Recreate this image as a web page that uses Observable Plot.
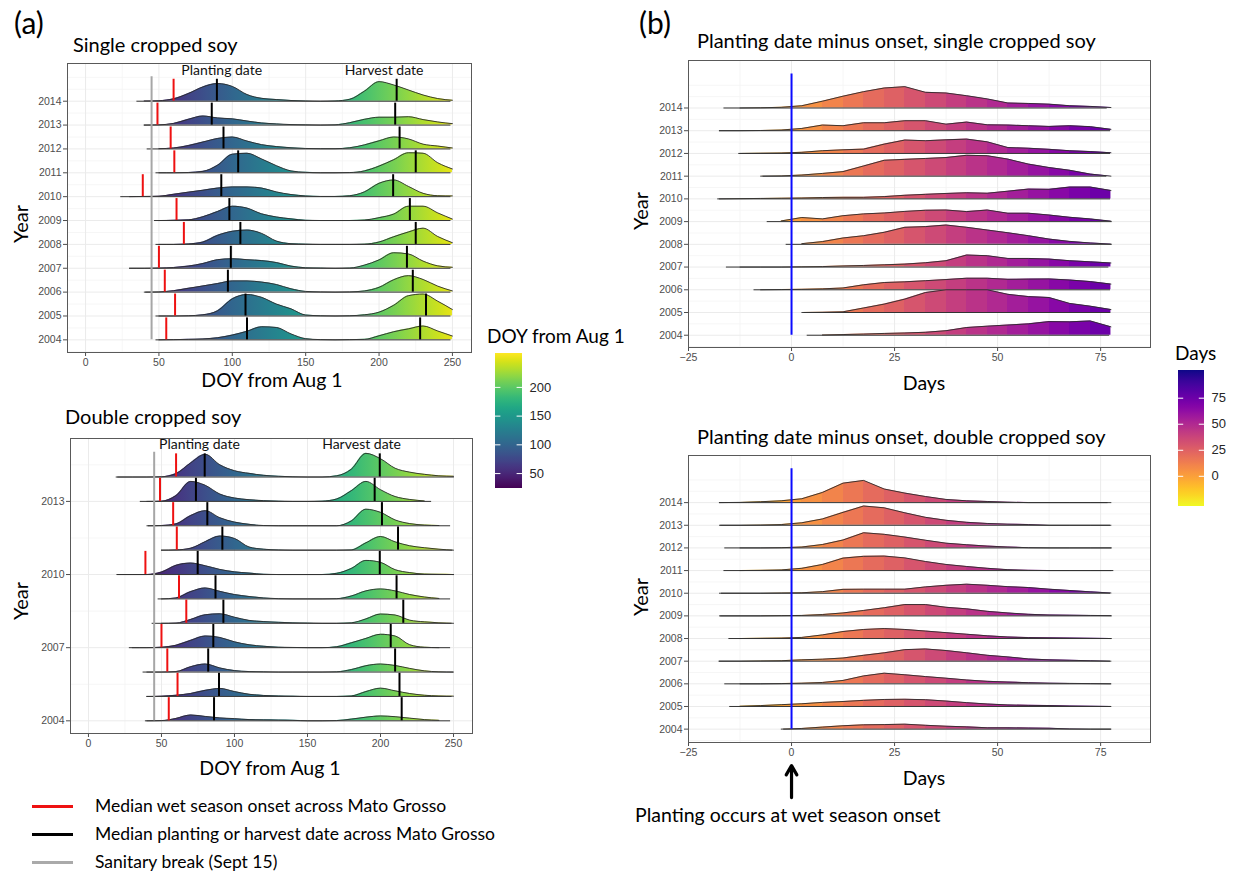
<!DOCTYPE html>
<html><head><meta charset="utf-8">
<script src="https://cdn.jsdelivr.net/npm/d3@7"></script>
<script src="https://cdn.jsdelivr.net/npm/@observablehq/plot@0.6"></script>
<style>
body{margin:0;background:#fff;}
#root{position:relative;width:1233px;height:873px;overflow:hidden;font-family:Lato,"Open Sans",sans-serif;color:#000;background:#fff;}
#root svg{position:absolute;overflow:visible;}
</style></head><body><div id="root"></div>
<script>
// ---------------- data ----------------
const years = [2004, 2005, 2006, 2007, 2008, 2009, 2010, 2011, 2012, 2013, 2014];

// Panel (a): DOY from Aug 1 grid and ridge heights (in row units), one row per year
const doyGrid = [20,30,40,50,60,70,80,90,100,110,120,130,140,150,160,170,180,190,200,210,220,230,240,250];
const singleDensity = [
  [0,0,0,0,0.01,0.02,0.04,0.09,0.2,0.36,0.55,0.52,0.25,0.05,0.01,0,0.01,0.02,0.17,0.34,0.46,0.58,0.37,0.16],
  [0,0,0,0,0,0.01,0.05,0.22,0.72,0.9,0.78,0.5,0.3,0.04,0.01,0,0.01,0.05,0.16,0.45,0.85,0.92,0.62,0.27],
  [0,0,0,0.01,0.06,0.16,0.26,0.36,0.47,0.47,0.42,0.32,0.14,0.03,0.01,0,0.01,0.05,0.2,0.52,0.69,0.53,0.25,0.05],
  [0,0,0,0.01,0.03,0.09,0.2,0.36,0.4,0.36,0.32,0.24,0.09,0.02,0.01,0,0.01,0.13,0.35,0.65,0.6,0.3,0.1,0.04],
  [0,0,0,0,0,0.02,0.1,0.38,0.55,0.6,0.46,0.14,0.03,0.01,0,0,0,0.01,0.1,0.32,0.52,0.68,0.33,0.07],
  [0,0,0,0,0.01,0.03,0.16,0.38,0.6,0.52,0.28,0.15,0.07,0.01,0,0,0,0.02,0.12,0.27,0.6,0.6,0.32,0.06],
  [0,0,0.01,0.02,0.1,0.19,0.27,0.36,0.41,0.41,0.36,0.2,0.09,0.03,0.01,0.01,0.04,0.2,0.56,0.7,0.43,0.14,0.04,0.03],
  [0,0,0,0,0,0.01,0.06,0.32,0.78,0.82,0.58,0.3,0.08,0.02,0,0,0.01,0.08,0.28,0.55,0.84,0.82,0.42,0.16],
  [0,0,0,0.01,0.04,0.14,0.29,0.44,0.5,0.33,0.18,0.1,0.05,0.02,0.01,0.01,0.05,0.17,0.34,0.5,0.42,0.2,0.12,0.04],
  [0,0,0,0.01,0.07,0.24,0.38,0.3,0.26,0.17,0.09,0.05,0.02,0.01,0,0.01,0.1,0.24,0.33,0.33,0.35,0.23,0.13,0.06],
  [0,0,0.01,0.02,0.1,0.32,0.6,0.74,0.62,0.28,0.12,0.07,0.03,0.01,0,0.01,0.08,0.42,0.82,0.68,0.47,0.26,0.11,0.04]
];
const singleMin = [48, 48, 41, 30, 48, 47, 24, 48, 42, 40, 35];
const singleMax = [249, 249, 249, 249, 249, 249, 249, 249, 249, 249, 249];
const singlePlantMedian = [110, 109, 97, 99, 105.5, 98, 92.5, 104, 94, 86, 89.5];
const singleHarvestMedian = [228, 232, 223, 219, 225, 221, 209.6, 225, 214, 211, 212];

const doubleDensity = [
  [0,0,0,0.01,0.1,0.24,0.18,0.12,0.09,0.05,0.04,0.03,0.02,0,0,0.01,0.07,0.15,0.2,0.17,0.11,0.05,0.02,0.01],
  [0,0,0,0.01,0.05,0.12,0.25,0.33,0.2,0.09,0.04,0.02,0.01,0,0,0,0.02,0.2,0.34,0.23,0.12,0.05,0.02,0.01],
  [0,0,0,0,0.02,0.22,0.33,0.17,0.06,0.02,0.01,0,0,0,0,0.01,0.1,0.26,0.33,0.27,0.15,0.05,0.01,0],
  [0,0,0,0.02,0.1,0.3,0.48,0.42,0.24,0.12,0.06,0.02,0.01,0,0,0.04,0.2,0.38,0.55,0.48,0.12,0.02,0,0],
  [0,0,0,0,0.01,0.16,0.35,0.39,0.25,0.12,0.07,0.04,0.02,0.01,0,0,0.02,0.18,0.38,0.34,0.13,0.06,0.02,0],
  [0,0,0,0,0.04,0.3,0.45,0.31,0.18,0.1,0.04,0.01,0,0,0,0.01,0.12,0.33,0.41,0.33,0.18,0.08,0.02,0],
  [0,0,0,0.1,0.38,0.47,0.36,0.21,0.11,0.06,0.01,0,0,0,0,0.05,0.25,0.58,0.5,0.2,0.08,0.02,0.01,0],
  [0,0,0,0,0.01,0.08,0.35,0.58,0.48,0.13,0.04,0.01,0,0,0,0,0.01,0.3,0.56,0.34,0.18,0.1,0.04,0],
  [0,0,0,0.01,0.08,0.42,0.62,0.33,0.15,0.06,0.01,0,0,0,0,0,0.2,0.68,0.55,0.24,0.09,0.03,0.01,0],
  [0,0,0,0.01,0.24,0.82,0.66,0.3,0.14,0.07,0.03,0.01,0,0,0.01,0.1,0.44,0.82,0.48,0.2,0.08,0.02,0,0],
  [0,0,0,0.01,0.14,0.58,0.93,0.5,0.26,0.15,0.07,0.03,0.01,0,0,0.05,0.32,0.97,0.75,0.36,0.2,0.11,0.05,0.03]
];
const doubleMin = [39, 40, 37.4, 28, 43.6, 47.7, 19.5, 50, 41, 35.5, 19];
const doubleMax = [248, 249, 250, 248, 249, 248, 250.6, 249.5, 248, 235, 250.6];
const doublePlantMedian = [86, 89.4, 82, 85.5, 92.4, 87, 74.8, 91.7, 81.4, 73.6, 79.6];
const doubleHarvestMedian = [214.5, 213, 210, 207, 215.6, 211, 199.5, 212, 201, 196, 199.5];

const onsetDoy = [55, 61, 54, 50, 67, 62, 39, 60.5, 58, 49, 60];
const sanitaryBreakDoy = 45;

// Panel (b): planting date minus onset (days)
const dayGrid = [-17.5,-12.5,-7.5,-2.5,2.5,7.5,12.5,17.5,22.5,27.5,32.5,37.5,42.5,47.5,52.5,57.5,62.5,67.5,72.5,77.5];
const singleDiffDensity = [
  [0,0,0,0,0,0.01,0.03,0.05,0.08,0.1,0.13,0.2,0.34,0.4,0.45,0.5,0.6,0.59,0.63,0.37],
  [0,0,0,0,0,0.01,0.03,0.2,0.37,0.59,0.88,1.0,1.0,1.0,0.8,0.7,0.66,0.4,0.28,0.13],
  [0,0,0,0.01,0.02,0.04,0.08,0.22,0.32,0.35,0.4,0.45,0.51,0.51,0.46,0.47,0.48,0.43,0.36,0.25],
  [0,0,0,0,0.01,0.02,0.05,0.07,0.1,0.13,0.19,0.28,0.53,0.5,0.38,0.38,0.35,0.28,0.23,0.18],
  [0,0,0,0,0.03,0.12,0.28,0.38,0.53,0.75,0.78,0.85,0.75,0.63,0.51,0.38,0.23,0.13,0.06,0.01],
  [0,0,0,0.03,0.18,0.12,0.26,0.34,0.38,0.45,0.5,0.51,0.44,0.51,0.37,0.37,0.29,0.19,0.12,0.02],
  [0,0.01,0.02,0.03,0.04,0.06,0.07,0.07,0.1,0.16,0.2,0.24,0.27,0.25,0.34,0.43,0.42,0.52,0.52,0.37],
  [0,0,0,0.01,0.05,0.12,0.2,0.45,0.7,0.74,0.78,0.82,0.92,0.9,0.75,0.53,0.38,0.26,0.09,0],
  [0,0,0.01,0.02,0.05,0.12,0.16,0.19,0.41,0.59,0.56,0.6,0.63,0.51,0.26,0.23,0.18,0.12,0.08,0.03],
  [0,0,0.01,0.03,0.1,0.25,0.22,0.35,0.35,0.44,0.44,0.29,0.38,0.26,0.25,0.22,0.19,0.22,0.18,0.06],
  [0,0,0.01,0.03,0.1,0.3,0.52,0.72,0.88,0.94,0.69,0.66,0.54,0.4,0.22,0.2,0.17,0.1,0.07,0.02]
];
const singleDiffMin = [3.8, 3, -9.1, -15.8, -1.3, -5.9, -17.9, -6.9, -12.8, -17.5, -16.4];
const singleDiffMax = [77.2, 77.5, 77.4, 77, 77.8, 77.8, 77.4, 76.5, 77.4, 77.4, 76.6];

const doubleDiffDensity = [
  [0,0,0,0,0.03,0.09,0.15,0.19,0.2,0.22,0.17,0.13,0.1,0.06,0.06,0.05,0.04,0.01,0,0],
  [0,0.01,0.04,0.08,0.12,0.18,0.22,0.27,0.31,0.32,0.3,0.24,0.17,0.11,0.07,0.05,0.04,0.02,0.01,0],
  [0,0,0,0.01,0.03,0.06,0.15,0.35,0.47,0.4,0.32,0.25,0.17,0.11,0.08,0.05,0.03,0.02,0.01,0],
  [0,0,0.01,0.02,0.06,0.09,0.14,0.26,0.37,0.51,0.54,0.47,0.37,0.26,0.19,0.1,0.06,0.04,0.02,0],
  [0,0,0.01,0.02,0.05,0.16,0.31,0.4,0.44,0.4,0.33,0.26,0.19,0.12,0.07,0.04,0.03,0.02,0.01,0],
  [0,0,0,0.01,0.02,0.06,0.13,0.24,0.36,0.5,0.5,0.38,0.31,0.2,0.13,0.07,0.04,0.03,0.02,0.01],
  [0,0,0,0.01,0.02,0.07,0.17,0.18,0.18,0.18,0.28,0.35,0.4,0.35,0.29,0.25,0.18,0.12,0.06,0.01],
  [0,0,0.01,0.03,0.1,0.27,0.55,0.63,0.64,0.56,0.4,0.27,0.18,0.1,0.04,0.01,0,0,0,0],
  [0,0,0,0.01,0.04,0.15,0.35,0.67,0.6,0.48,0.34,0.21,0.14,0.08,0.04,0.01,0,0,0,0],
  [0,0,0.01,0.03,0.11,0.28,0.57,0.85,0.77,0.55,0.35,0.22,0.13,0.08,0.05,0.03,0,0,0,0],
  [0,0.01,0.04,0.08,0.17,0.45,0.86,0.98,0.6,0.42,0.27,0.14,0.08,0.05,0.02,0,0,0,0,0]
];
const doubleDiffMin = [-1.9, -15, -16.2, -17.6, -15.2, -17.2, -17, -16.4, -16.2, -17.2, -17.5];
const doubleDiffMax = [77.6, 77.6, 77.6, 77.4, 77.8, 77.8, 77.4, 78.2, 77.8, 77.4, 76.8];
const onsetDay = 0;

// colour scales and ticks
const doyFillDomain = [24, 259];
const daysFillDomain = [-29, 101.6];
const doyTicks = [0, 50, 100, 150, 200, 250];
const doyMinorTicks = [25, 75, 125, 175, 225];
const daysTicks = [-25, 0, 25, 50, 75];
const daysMinorTicks = [-12.5, 12.5, 37.5, 62.5];
const doyLegendTicks = [50, 100, 150, 200];
const daysLegendTicks = [0, 25, 50, 75];
const doubleYearTicks = [2004, 2007, 2010, 2013];

// ---------------- helpers ----------------
const root = document.getElementById("root");
const doyColor = v => d3.interpolateViridis((v - doyFillDomain[0]) / (doyFillDomain[1] - doyFillDomain[0]));
const daysColor = v => d3.interpolatePlasma(1 - (v - daysFillDomain[0]) / (daysFillDomain[1] - daysFillDomain[0]));

function text(str, x, y, size, opts = {}) {
  const d = document.createElement("div");
  d.textContent = str;
  let t = opts.center ? "translate(-50%,-50%)" : "translate(0,-50%)";
  if (opts.rotate) t += " rotate(-90deg)";
  d.style.cssText = `position:absolute;white-space:nowrap;font-size:${size}px;line-height:1;left:${x}px;top:${y}px;transform:${t};color:${opts.color || "#000"};`;
  root.appendChild(d);
}

function addGradient(svg, id, stops, v1, v2, vertical) {
  const s = svg.scale(vertical ? "y" : "x");
  const sc = d3.scaleLinear(s.domain, s.range);
  const defs = d3.select(svg).insert("defs", ":first-child");
  const g = defs.append("linearGradient").attr("id", id).attr("gradientUnits", "userSpaceOnUse");
  if (vertical) g.attr("x1", 0).attr("x2", 0).attr("y1", sc(v1)).attr("y2", sc(v2));
  else g.attr("x1", sc(v1)).attr("x2", sc(v2)).attr("y1", 0).attr("y2", 0);
  for (const st of stops) g.append("stop").attr("offset", st.offset).attr("stop-color", st.color);
}

function smoothStops(colorFn, domain) {
  return d3.range(0, 41).map(i => {
    const t = i / 40;
    return {offset: t, color: colorFn(domain[0] + t * (domain[1] - domain[0]))};
  });
}
function bandStops(colorFn, grid) {
  const a = grid[0], b = grid[grid.length - 1];
  const out = [];
  for (let i = 0; i < grid.length - 1; i++) {
    const c = colorFn((grid[i] + grid[i + 1]) / 2);
    out.push({offset: (grid[i] - a) / (b - a), color: c}, {offset: (grid[i + 1] - a) / (b - a), color: c});
  }
  return out;
}

function ridgeRows(grid, dens, mins, maxs) {
  return years.map((year, i) => ({
    year, lo: mins[i], hi: maxs[i],
    pts: grid.map((x, j) => ({x, year, h: dens[i][j]})).filter(p => p.x >= mins[i] - 1 && p.x <= maxs[i] + 1)
  }));
}

function ridgeMarks(rows, fillId, curve) {
  return rows.slice().sort((a, b) => b.year - a.year).flatMap(r => [
    Plot.areaY(r.pts, {x: "x", y1: "year", y2: d => d.year + d.h, fill: `url(#${fillId})`, curve}),
    Plot.line(r.pts, {x: "x", y: d => d.year + d.h, stroke: "#2b2b2b", strokeWidth: 0.9, curve}),
    Plot.ruleY([r], {y: "year", x1: "lo", x2: "hi", stroke: "#333", strokeWidth: 1})
  ]);
}

function gridMarks(xMajor, xMinor, yMajor, yMinor) {
  return [
    Plot.ruleX(xMinor, {stroke: "#f4f4f4", strokeWidth: 0.8}),
    Plot.ruleY(yMinor, {stroke: "#f4f4f4", strokeWidth: 0.8}),
    Plot.ruleX(xMajor, {stroke: "#ebebeb", strokeWidth: 1}),
    Plot.ruleY(yMajor, {stroke: "#ebebeb", strokeWidth: 1})
  ];
}

const baseStyle = {fontFamily: "'Liberation Sans', Arial, sans-serif", fontSize: "10.5px", color: "#4d4d4d", background: "none", overflow: "visible"};

function place(svg, left, top) {
  svg.style.left = left + "px";
  svg.style.top = top + "px";
  root.appendChild(svg);
}

// ---------------- panel (a) ----------------
function panelA({dens, mins, maxs, plantMed, harvestMed, yDomain, yTicks, yMajor, yMinor, top, mTop, mBottom, height, mLeft, mRight, gradId, markH, labelPos}) {
  const rows = ridgeRows(doyGrid, dens, mins, maxs);
  const med = years.map((y, i) => ({year: y, p: plantMed[i], h: harvestMed[i], o: onsetDoy[i]}));
  const svg = Plot.plot({
    width: 480, height, marginLeft: mLeft, marginRight: mRight, marginTop: mTop, marginBottom: mBottom,
    style: baseStyle,
    x: {domain: [-12.3, 263], ticks: doyTicks, tickSize: 4, tickPadding: 2, label: null},
    y: {domain: yDomain, ticks: yTicks, tickFormat: "d", tickSize: 4, tickPadding: 2, label: null},
    marks: [
      ...gridMarks(doyTicks, doyMinorTicks, yMajor, yMinor),
      ...ridgeMarks(rows, gradId, "monotone-x"),
      Plot.ruleX([sanitaryBreakDoy], {y1: years[0], y2: years[years.length - 1] + 1.02, stroke: "#a6a6a6", strokeWidth: 2}),
      Plot.ruleX(med, {x: "o", y1: "year", y2: d => d.year + markH, stroke: "#ee1111", strokeWidth: 2}),
      Plot.ruleX(med, {x: "p", y1: "year", y2: d => d.year + markH, stroke: "#000", strokeWidth: 2}),
      Plot.ruleX(med, {x: "h", y1: "year", y2: d => d.year + markH, stroke: "#000", strokeWidth: 2}),
      Plot.text(labelPos, {x: "x", y: "y", text: "t", fill: "#111", fontSize: 14, fontFamily: "Lato, sans-serif"}),
      Plot.frame({stroke: "#595959", strokeWidth: 1})
    ]
  });
  addGradient(svg, gradId, smoothStops(doyColor, doyFillDomain), doyFillDomain[0], doyFillDomain[1]);
  place(svg, 0, top);
}

panelA({
  dens: singleDensity, mins: singleMin, maxs: singleMax,
  plantMed: singlePlantMedian, harvestMed: singleHarvestMedian,
  yDomain: [2003.47, 2015.58], yTicks: years, yMajor: years,
  yMinor: [2003.5, 2004.5, 2005.5, 2006.5, 2007.5, 2008.5, 2009.5, 2010.5, 2011.5, 2012.5, 2013.5, 2014.5, 2015],
  top: 40, height: 360, mTop: 23, mBottom: 48, mLeft: 67, mRight: 9, gradId: "gradSingle", markH: 0.92,
  labelPos: [{x: 92.8, y: 2015.27, t: "Planting date"}, {x: 203.4, y: 2015.27, t: "Harvest date"}]
});
panelA({
  dens: doubleDensity, mins: doubleMin, maxs: doubleMax,
  plantMed: doublePlantMedian, harvestMed: doubleHarvestMedian,
  yDomain: [2003.48, 2015.58], yTicks: doubleYearTicks, yMajor: doubleYearTicks,
  yMinor: [2005.5, 2008.5, 2011.5, 2014.5],
  top: 410, height: 350, mTop: 28, mBottom: 27, mLeft: 70, mRight: 8, gradId: "gradDouble", markH: 0.95,
  labelPos: [{x: 76, y: 2015.32, t: "Planting date"}, {x: 187, y: 2015.32, t: "Harvest date"}]
});

// ---------------- panel (b) ----------------
function panelB({dens, mins, maxs, yDomain, top, height, mTop, mBottom, gradId, arrow}) {
  const rows = ridgeRows(dayGrid, dens, mins, maxs);
  const marks = [
    ...gridMarks(daysTicks, daysMinorTicks, years, [2003.5, 2004.5, 2005.5, 2006.5, 2007.5, 2008.5, 2009.5, 2010.5, 2011.5, 2012.5, 2013.5, 2014.5, 2015]),
    ...ridgeMarks(rows, gradId, "linear"),
    Plot.ruleX([onsetDay], {y1: years[0], y2: years[years.length - 1] + 1.5, stroke: "#0a0aff", strokeWidth: 2}),
    Plot.frame({stroke: "#595959", strokeWidth: 1})
  ];
  if (arrow) marks.push(Plot.arrow([arrow], {x1: "x", x2: "x", y1: "y1", y2: "y2", stroke: "#000", strokeWidth: 3.2, headLength: 10}));
  const svg = Plot.plot({
    width: 540, height, marginLeft: 68, marginRight: 10, marginTop: mTop, marginBottom: mBottom,
    style: baseStyle,
    x: {domain: [-25, 87.1], ticks: daysTicks, tickSize: 4, tickPadding: 2, label: null},
    y: {domain: yDomain, ticks: years, tickFormat: "d", tickSize: 4, tickPadding: 2, label: null},
    marks
  });
  addGradient(svg, gradId, bandStops(daysColor, dayGrid), dayGrid[0], dayGrid[dayGrid.length - 1]);
  place(svg, 620, top);
}

panelB({dens: singleDiffDensity, mins: singleDiffMin, maxs: singleDiffMax,
  yDomain: [2003.46, 2016.09], top: 40, height: 340, mTop: 20, mBottom: 33, gradId: "gradDiffSingle"});
panelB({dens: doubleDiffDensity, mins: doubleDiffMin, maxs: doubleDiffMax,
  yDomain: [2003.41, 2016.08], top: 430, height: 380, mTop: 25, mBottom: 68, gradId: "gradDiffDouble",
  arrow: {x: onsetDay, y1: 2000.98, y2: 2002.39}});

// ---------------- colour legends ----------------
function colorLegend({domain, ticks, colorFn, id, left, top, width, height, mLeft, mRight, mTop, mBottom}) {
  const svg = Plot.plot({
    width, height, marginLeft: mLeft, marginRight: mRight, marginTop: mTop, marginBottom: mBottom,
    style: {...baseStyle, fontSize: "13px", color: "#262626"},
    x: {domain: [0, 1], axis: null},
    y: {domain, axis: "right", ticks, tickSize: 0, tickPadding: 7, label: null},
    marks: [
      Plot.rect([{lo: domain[0], hi: domain[1]}], {x1: 0, x2: 1, y1: "lo", y2: "hi", fill: `url(#${id})`}),
      Plot.ruleY(ticks, {x1: 0, x2: 0.2, stroke: "#fff", strokeWidth: 1}),
      Plot.ruleY(ticks, {x1: 0.8, x2: 1, stroke: "#fff", strokeWidth: 1})
    ]
  });
  addGradient(svg, id, smoothStops(colorFn, domain), domain[0], domain[1], true);
  place(svg, left, top);
}
colorLegend({domain: doyFillDomain, ticks: doyLegendTicks, colorFn: doyColor, id: "legDoy",
  left: 490, top: 345, width: 62, height: 150, mLeft: 5, mRight: 30, mTop: 8, mBottom: 7});
colorLegend({domain: daysFillDomain, ticks: daysLegendTicks, colorFn: daysColor, id: "legDays",
  left: 1172, top: 362, width: 61, height: 152, mLeft: 6, mRight: 29, mTop: 8, mBottom: 8});

// ---------------- texts ----------------
text("(a)", 14, 22, 30);
text("(b)", 639, 22, 30);
text("Single cropped soy", 73, 44, 20);
text("Double cropped soy", 65, 416, 20);
text("Planting date minus onset, single cropped soy", 697, 40, 20);
text("Planting date minus onset, double cropped soy", 697, 436, 20);
text("Year", 20, 224, 20, {center: true, rotate: true});
text("Year", 20, 601, 20, {center: true, rotate: true});
text("Year", 640, 211, 20, {center: true, rotate: true});
text("Year", 640, 597, 20, {center: true, rotate: true});
text("DOY from Aug 1", 272, 380, 19.5, {center: true});
text("DOY from Aug 1", 270, 768, 19.5, {center: true});
text("Days", 924, 383, 19.5, {center: true});
text("Days", 924, 778, 19.5, {center: true});
text("DOY from Aug 1", 487, 335, 19);
text("Days", 1175, 352, 19);
text("Planting occurs at wet season onset", 635, 815, 19.5);

// bottom-left line legend
const legendItems = [
  {label: "Median wet season onset across Mato Grosso", color: "#ee1111"},
  {label: "Median planting or harvest date across Mato Grosso", color: "#000"},
  {label: "Sanitary break (Sept 15)", color: "#aaaaaa"}
];
legendItems.forEach((it, i) => {
  const y = 806 + i * 28;
  const ln = document.createElement("div");
  ln.style.cssText = `position:absolute;left:32px;top:${y - 1.5}px;width:41px;height:3px;background:${it.color};`;
  root.appendChild(ln);
  text(it.label, 95, y, 17.5);
});
</script></body></html>
